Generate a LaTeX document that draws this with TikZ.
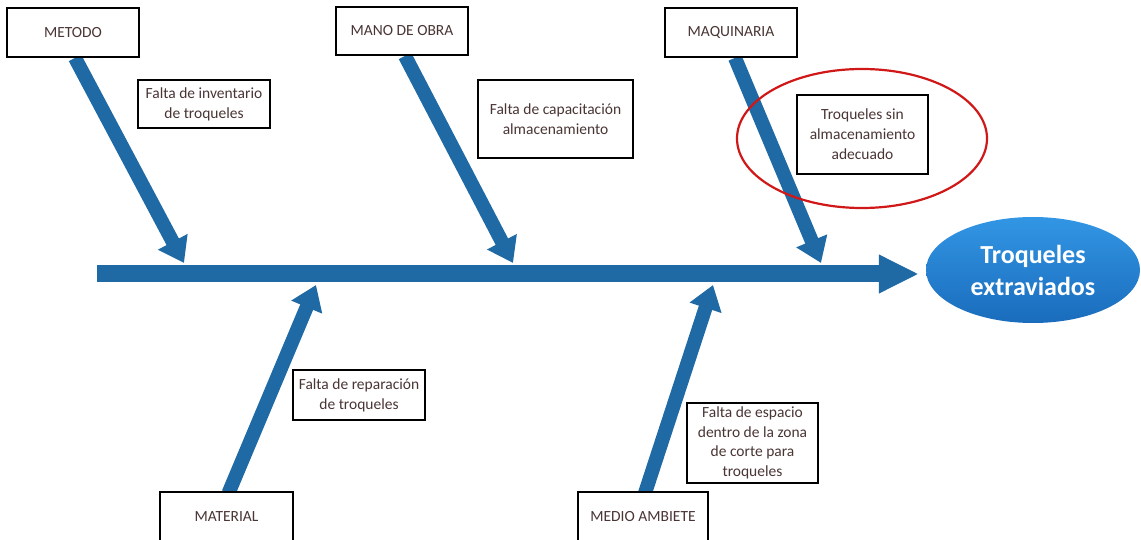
\documentclass[tikz,border=0pt]{standalone}
\usepackage{fontspec}
\setmainfont{Carlito}
\usetikzlibrary{arrows.meta,shapes.geometric,shadings}
\definecolor{bone}{HTML}{1F6AA5}
\definecolor{labeltext}{HTML}{4A3535}
\definecolor{effecttop}{HTML}{3296E4}
\definecolor{effectbot}{HTML}{1A6CBC}
\definecolor{ringred}{HTML}{D01818}
\tikzset{
  catbox/.style={draw=black, line width=1.8pt, fill=white, inner sep=0pt,
    align=center, text=labeltext, font=\fontsize{15.5}{20}\selectfont},
  causebox/.style={catbox},
  bonearrow/.style={draw=bone, line width=14pt,
    -{Triangle[length=24pt,width=32pt]}},
  spine/.style={draw=bone, line width=17pt,
    -{Triangle[length=40pt,width=36pt]}},
}
\begin{document}
\begin{tikzpicture}[x=1pt,y=-1pt]
\useasboundingbox (0,0) rectangle (1141,540);

% category boxes
\node[catbox, minimum width=132pt, minimum height=49pt] (metodo) at (73,32.5) {METODO};
\node[catbox, minimum width=132pt, minimum height=48pt] (mano) at (402,31) {MANO DE OBRA};
\node[catbox, minimum width=132pt, minimum height=49pt] (maq) at (731,32.5) {MAQUINARIA};
\node[catbox, minimum width=133pt, minimum height=50pt] (material) at (226.5,517) {MATERIAL};
\node[catbox, minimum width=130pt, minimum height=50pt] (medio) at (643,517) {MEDIO AMBIETE};

% effect
\node[ellipse, minimum width=214pt, minimum height=106pt, inner sep=0pt,
  top color=effecttop, bottom color=effectbot, text=white, align=center,
  font=\fontsize{26}{32}\selectfont\bfseries] (effect) at (1033,270) {Troqueles\\extraviados};

% tips of the branch arrows on the spine
\coordinate (spineL) at (97,274);
\coordinate (t1) at (184,263);
\coordinate (t2) at (513,263);
\coordinate (t3) at (821,263);
\coordinate (t4) at (316,285);
\coordinate (t5) at (713,285);

% spine
\draw[spine] (spineL) -- ([xshift=-7pt]effect.west |- spineL);

% branch arrows
\draw[bonearrow] ([xshift=2pt]metodo.south) -- (t1);
\draw[bonearrow] ([xshift=3pt]mano.south) -- (t2);
\draw[bonearrow] ([xshift=4pt]maq.south) -- (t3);
\draw[bonearrow] ([xshift=2pt,yshift=-2pt]material.north) -- (t4);
\draw[bonearrow] ([xshift=2pt,yshift=-2pt]medio.north) -- (t5);

% redraw boxes on top of arrow ends
\node[catbox, minimum width=132pt, minimum height=49pt] at (metodo) {METODO};
\node[catbox, minimum width=132pt, minimum height=48pt] at (mano) {MANO DE OBRA};
\node[catbox, minimum width=132pt, minimum height=49pt] at (maq) {MAQUINARIA};
\node[catbox, minimum width=133pt, minimum height=50pt] at (material) {MATERIAL};
\node[catbox, minimum width=130pt, minimum height=50pt] at (medio) {MEDIO AMBIETE};

% causes
\node[causebox, minimum width=132pt, minimum height=48pt] (c1) at (204,104) {Falta de inventario\\de troqueles};
\node[causebox, minimum width=155pt, minimum height=78pt] (c2) at (555.5,119) {Falta de capacitación\\almacenamiento};
\node[causebox, minimum width=131pt, minimum height=79pt] (c3) at (862.5,134.5) {Troqueles sin\\almacenamiento\\adecuado};
\node[causebox, minimum width=132pt, minimum height=50pt] (c4) at (359,395) {Falta de reparación\\de troqueles};
\node[causebox, minimum width=131pt, minimum height=80pt, font=\fontsize{15.5}{19.5}\selectfont] (c5) at (752.5,443) {Falta de espacio\\dentro de la zona\\de corte para\\troqueles};

% highlight ring
\node[draw=ringred, line width=2.2pt, ellipse, minimum width=250pt, minimum height=139pt] (ring) at (862,138.5) {};
\end{tikzpicture}
\end{document}
